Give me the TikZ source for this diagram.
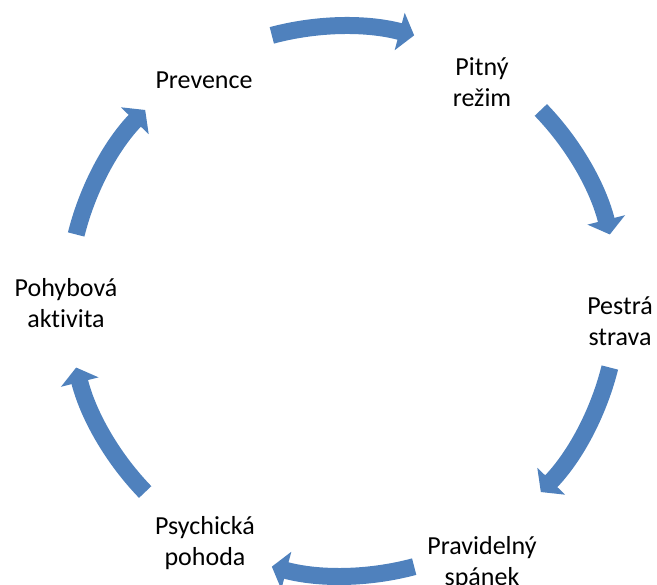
\documentclass[tikz,border=0pt]{standalone}
\usepackage{fontspec}
\setmainfont{Carlito}[Ligatures=NoCommon]
\usetikzlibrary{arrows.meta}
\definecolor{cycleblue}{HTML}{4F81BD}

\begin{document}
\begin{tikzpicture}[x=1pt, y=1pt,
    stage/.style={align=center, font=\fontsize{26}{31}\selectfont, inner sep=0pt},
    cyclearrow/.style={cycleblue, line width=17pt, -{Triangle[length=15pt, width=38pt]}}]

    \useasboundingbox (0,0) rectangle (657,-585);
    \coordinate (c) at (343,-301);

    % Stages
    \node[stage] (prevence) at (204,-80) {Prevence};
    \node[stage] (pitny) at (482,-82) {Pitný\\režim};
    \node[stage] (pestra) at (620,-321) {Pestrá\\strava};
    \node[stage] (spanek) at (482,-563) {Pravidelný\\spánek};
    \node[stage] (pohoda) at (205,-543) {Psychická\\pohoda};
    \node[stage] (pohyb) at (66,-303) {Pohybová\\aktivita};

    % Arrows around the cycle
    \draw[cyclearrow] (c) ++(105:275) arc[start angle=105, end angle=75, radius=275];
    \draw[cyclearrow] (c) ++(44:275) arc[start angle=44, end angle=14, radius=275];
    \draw[cyclearrow] (c) ++(-14:275) arc[start angle=-14, end angle=-44, radius=275];
    \draw[cyclearrow] (c) ++(-75:275) arc[start angle=-75, end angle=-105, radius=275];
    \draw[cyclearrow] (c) ++(-136:275) arc[start angle=-136, end angle=-166, radius=275];
    \draw[cyclearrow] (c) ++(166:275) arc[start angle=166, end angle=136, radius=275];
\end{tikzpicture}
\end{document}
